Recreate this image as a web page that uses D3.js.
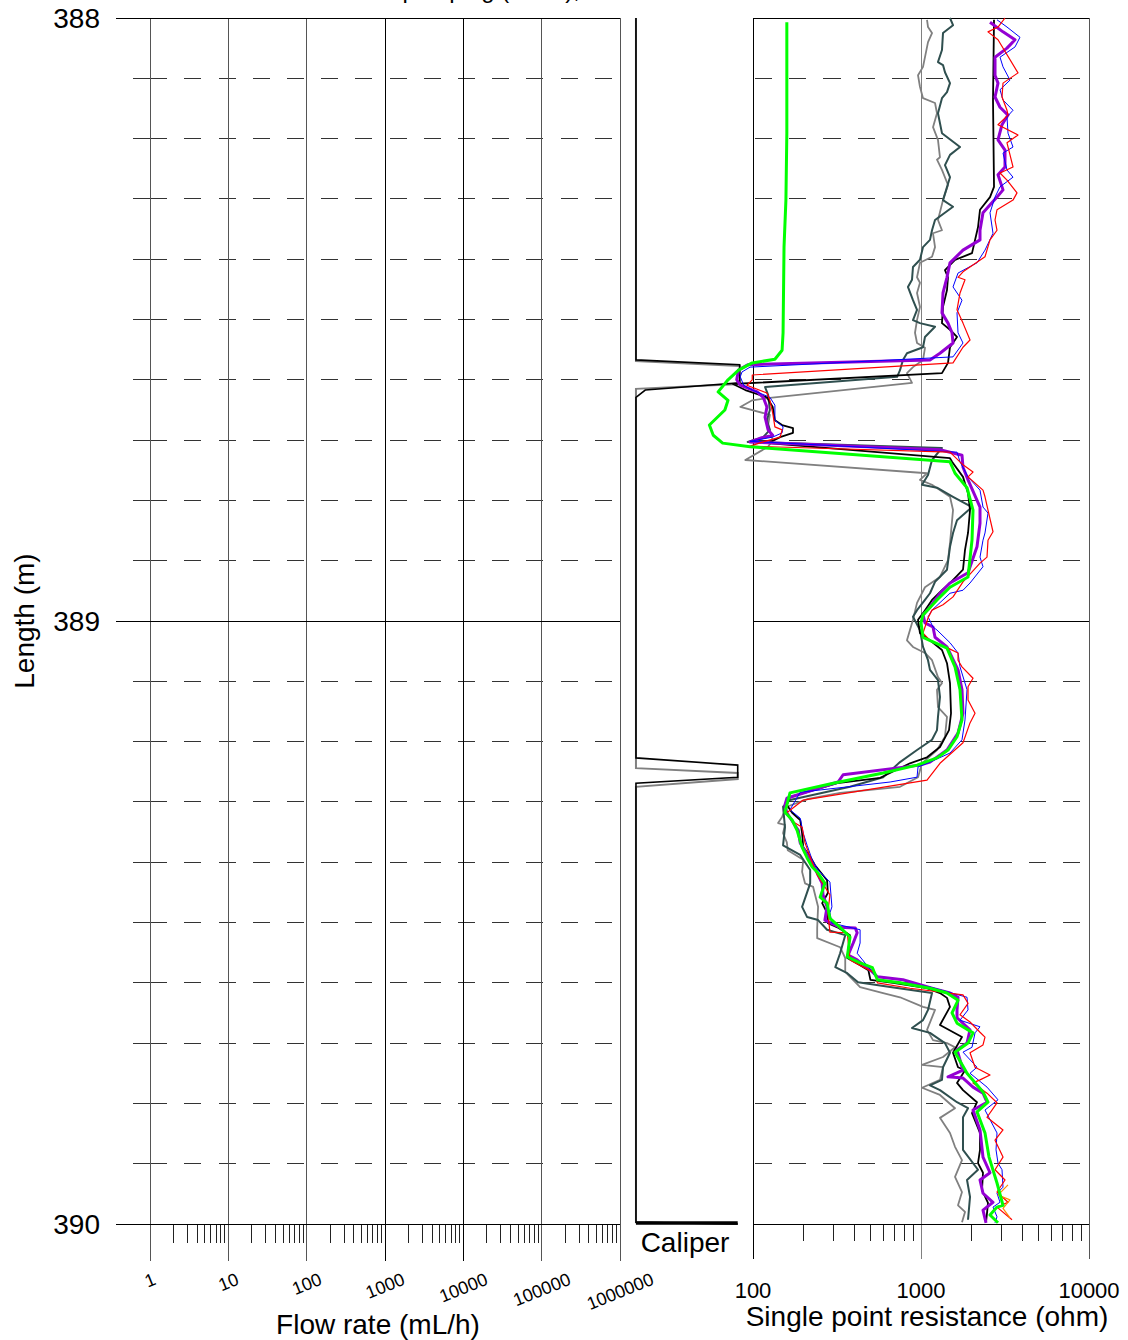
<!DOCTYPE html>
<html>
<head>
<meta charset="utf-8">
<script src="https://cdn.jsdelivr.net/npm/d3@7"></script>
<style>
  html, body { margin: 0; padding: 0; background: #fff; }
  svg { display: block; font-family: "Liberation Sans", Arial, Helvetica, sans-serif; }
</style>
</head>
<body>
<svg id="chart" width="1128" height="1340"></svg>
<script>
// axis ticks
const lengthTicks = [388, 389, 390];
const dashLengths = [388.1, 388.2, 388.3, 388.4, 388.5, 388.6, 388.7, 388.8, 388.9,
                     389.1, 389.2, 389.3, 389.4, 389.5, 389.6, 389.7, 389.8, 389.9];
const flowTicks = [1, 10, 100, 1000, 10000, 100000, 1000000];
const flowTickLabels = ["1", "10", "100", "1000", "10000", "100000", "1000000"];
const sprTicks = [100, 1000, 10000];
const sprTickLabels = ["100", "1000", "10000"];

// caliper (mm) against length (m)
const caliperBlack = [[388.000,76.4],[388.567,76.4],[388.575,92.0],[388.605,92.0],[388.617,77.8],[388.629,76.4],
  [389.227,76.4],[389.239,91.7],[389.259,91.7],[389.269,76.4],[389.997,76.4],[390.000,91.7]];
const caliperGray = [[388.000,76.4],[388.569,76.4],[388.577,92.0],[388.607,92.0],[388.615,76.4],
  [389.244,76.4],[389.252,91.7],[389.262,91.7],[389.275,76.4],[389.997,76.4],[390.000,91.7]];

// single point resistance (ohm) against length (m)
const sprGray = [[388.003,1086],[388.015,1101],[388.025,1163],[388.040,1101],[388.081,1028],[388.095,960],[388.114,986],
  [388.133,1028],[388.141,1212],[388.158,1245],[388.181,1179],[388.202,1262],[388.231,1297],[388.235,1245],[388.252,1333],
  [388.277,1448],[388.302,1352],[388.335,1262],[388.352,1333],[388.357,1179],[388.380,1212],[388.396,1163],[388.406,986],
  [388.430,947],[388.439,986],[388.456,947],[388.479,986],[388.501,947],[388.522,921],[388.539,947],[388.547,1056],
  [388.567,1028],[388.579,896],[388.589,825],[388.605,884],[388.630,126],[388.634,99],[388.645,84],[388.658,126],
  [388.675,123],[388.700,131],[388.711,123],[388.733,90],[388.755,1086],[388.766,986],[388.774,1163],[388.794,1488],
  [388.816,1551],[388.871,1488],[388.899,1448],[388.927,1297],[388.944,1056],[388.970,947],[388.998,896],[389.032,825],
  [389.043,896],[389.053,1056],[389.065,1163],[389.093,1262],[389.103,1333],[389.114,1245],[389.143,1262],[389.159,1428],
  [389.192,1389],[389.214,1245],[389.236,1014],[389.259,960],[389.275,750],[389.285,330],[389.295,213],[389.308,159],
  [389.325,149],[389.335,141],[389.338,155],[389.352,151],[389.367,159],[389.380,161],[389.396,199],[389.416,196],
  [389.435,204],[389.441,228],[389.474,244],[389.509,241],[389.526,241],[389.541,330],[389.559,354],[389.582,354],
  [389.607,434],[389.617,595],[389.624,750],[389.640,1028],[389.645,1212],[389.678,1086],[389.695,1179],[389.700,1428],
  [389.707,1594],[389.723,1352],[389.736,1014],[389.740,1352],[389.761,1297],[389.774,1014],[389.786,1297],[389.808,1594],
  [389.824,1297],[389.849,1488],[389.872,1594],[389.894,1754],[389.922,1594],[389.947,1754],[389.969,1661],[389.980,1828],
  [389.997,1754]];

const sprSlate = [[388.000,1488],[388.012,1551],[388.025,1352],[388.053,1333],[388.073,1262],[388.078,1352],[388.090,1389],
  [388.108,1488],[388.123,1428],[388.133,1333],[388.158,1262],[388.191,1333],[388.214,1707],[388.227,1488],[388.244,1389],
  [388.264,1488],[388.302,1352],[388.313,1551],[388.335,1212],[388.352,1163],[388.368,1131],[388.380,1028],[388.401,986],
  [388.413,896],[388.434,884],[388.446,836],[388.468,896],[388.484,947],[388.501,896],[388.506,986],[388.512,1212],
  [388.529,1056],[388.546,1028],[388.556,825],[388.567,781],[388.584,750],[388.595,721],[388.612,118],[388.625,123],
  [388.650,126],[388.667,121],[388.683,126],[388.695,115],[388.703,93],[388.713,1333],[388.733,1163],[388.758,1101],
  [388.774,1014],[388.779,1245],[388.794,1551],[388.811,2012],[388.833,1638],[388.854,1551],[388.877,1488],[388.915,1428],
  [388.935,1212],[388.954,1131],[388.965,1056],[388.982,947],[388.993,896],[389.015,986],[389.043,1028],[389.065,1101],
  [389.081,1131],[389.098,1262],[389.126,1297],[389.159,1262],[389.181,1245],[389.197,1163],[389.214,947],[389.234,750],
  [389.259,595],[389.275,378],[389.297,166],[389.308,151],[389.342,155],[389.372,151],[389.388,191],[389.400,204],
  [389.413,219],[389.435,219],[389.474,196],[389.491,210],[389.496,244],[389.512,276],[389.521,354],[389.551,330],
  [389.574,309],[389.584,364],[389.599,422],[389.607,655],[389.617,1163],[389.645,1101],[389.662,1028],[389.675,884],
  [389.683,1131],[389.700,1389],[389.716,1488],[389.740,1352],[389.761,1333],[389.770,1131],[389.778,1297],[389.798,1638],
  [389.808,1905],[389.823,1778],[389.877,1778],[389.910,2184],[389.927,1879],[389.955,1958],[389.993,1905]];

const sprBlack = [[388.003,2720],[388.136,2683],[388.280,2720],[388.297,2575],[388.318,2245],[388.347,2184],[388.390,2012],
  [388.401,1594],[388.418,1389],[388.430,1448],[388.451,1428],[388.479,1352],[388.506,1333],[388.517,1488],[388.529,1638],
  [388.546,1488],[388.572,1448],[388.589,1333],[388.607,76],[388.617,90],[388.629,121],[388.645,131],[388.667,135],
  [388.675,149],[388.680,173],[388.688,173],[388.695,145],[388.705,123],[388.730,1488],[388.736,1530],[388.761,1778],
  [388.788,1905],[388.816,1958],[388.854,1905],[388.882,1828],[388.915,1778],[388.937,1488],[388.949,1333],[388.965,1163],
  [388.987,1028],[388.998,960],[389.020,986],[389.032,1131],[389.048,1333],[389.070,1428],[389.103,1488],[389.153,1509],
  [389.181,1468],[389.209,1297],[389.226,1086],[389.236,860],[389.260,572],[389.269,318],[389.292,166],[389.305,159],
  [389.318,171],[389.330,191],[389.352,196],[389.375,199],[389.391,219],[389.405,234],[389.430,276],[389.451,279],
  [389.468,258],[389.484,276],[389.501,279],[389.508,318],[389.521,378],[389.559,364],[389.571,434],[389.579,486],
  [389.595,500],[389.600,682],[389.609,1086],[389.617,1297],[389.625,1428],[389.640,1488],[389.670,1297],[389.690,1754],
  [389.716,1551],[389.740,1661],[389.745,1828],[389.766,1638],[389.778,1778],[389.798,2154],[389.816,2012],[389.849,2245],
  [389.877,2245],[389.899,2184],[389.915,2339],[389.944,2307],[389.965,2505],[389.982,2471],[389.997,2438]];

const sprPurple = [[388.007,2575],[388.023,3077],[388.036,3627],[388.050,3250],[388.065,2758],[388.095,2758],[388.108,2873],
  [388.131,2758],[388.148,2953],[388.161,3295],[388.177,3035],[388.202,2873],[388.219,3162],[388.247,3162],[388.260,2873],
  [388.285,3077],[388.297,2834],[388.323,2339],[388.352,2245],[388.368,2245],[388.385,1778],[388.406,1488],[388.430,1428],
  [388.456,1352],[388.489,1333],[388.506,1448],[388.522,1530],[388.539,1551],[388.556,1297],[388.567,1131],[388.575,93],
  [388.584,82],[388.600,80],[388.609,84],[388.620,106],[388.629,115],[388.645,121],[388.662,118],[388.683,123],
  [388.692,131],[388.697,110],[388.703,96],[388.716,1297],[388.725,1754],[388.745,1778],[388.766,1905],[388.811,2245],
  [388.838,2245],[388.877,2154],[388.920,1905],[388.937,1488],[388.954,1297],[388.977,1131],[388.990,1028],[389.003,1056],
  [389.010,1179],[389.027,1212],[389.043,1428],[389.081,1661],[389.114,1754],[389.153,1778],[389.186,1661],[389.214,1428],
  [389.234,1131],[389.239,986],[389.255,344],[389.267,321],[389.294,159],[389.305,155],[389.318,159],[389.347,186],
  [389.368,191],[389.396,219],[389.418,241],[389.435,258],[389.454,261],[389.474,276],[389.496,268],[389.508,330],
  [389.509,406],[389.517,417],[389.534,395],[389.554,368],[389.562,417],[389.579,500],[389.590,550],[389.595,781],
  [389.609,1163],[389.617,1488],[389.624,1661],[389.645,1638],[389.658,1638],[389.678,1958],[389.700,1879],[389.711,1638],
  [389.745,1778],[389.756,1448],[389.758,1778],[389.773,2040],[389.783,2339],[389.798,2471],[389.811,2040],[389.844,2245],
  [389.889,2339],[389.915,2575],[389.927,2245],[389.949,2339],[389.964,2683],[389.977,2339],[389.998,2438]];

const sprBlue = [[388.003,2834],[388.015,3250],[388.032,3884],[388.048,3627],[388.065,2953],[388.081,3077],[388.103,3387],
  [388.119,2953],[388.136,3077],[388.153,3529],[388.164,3250],[388.191,3295],[388.214,3529],[388.224,3077],[388.252,3250],
  [388.264,3529],[388.280,2953],[388.297,2758],[388.323,2575],[388.357,2683],[388.385,2404],[388.406,2154],[388.423,1661],
  [388.446,1551],[388.468,1754],[388.489,1638],[388.522,1661],[388.539,1778],[388.562,1551],[388.579,96],[388.587,86],
  [388.595,84],[388.609,88],[388.617,99],[388.629,126],[388.642,135],[388.667,135],[388.678,151],[388.688,149],
  [388.695,131],[388.702,96],[388.720,1638],[388.736,1707],[388.761,1905],[388.783,2245],[388.811,2339],[388.821,2505],
  [388.854,2404],[388.866,2339],[388.894,2245],[388.910,2339],[388.937,1958],[388.949,1778],[388.954,1488],[388.982,1163],
  [388.993,1101],[389.010,1179],[389.015,1245],[389.036,1488],[389.053,1661],[389.076,1707],[389.114,1879],[389.164,1828],
  [389.197,1754],[389.219,1488],[389.234,1131],[389.242,960],[389.259,947],[389.267,655],[389.284,191],[389.313,166],
  [389.327,191],[389.352,199],[389.372,210],[389.396,225],[389.413,244],[389.433,287],[389.474,295],[389.484,287],
  [389.501,295],[389.512,434],[389.534,434],[389.551,417],[389.574,486],[389.584,520],[389.595,550],[389.599,750],
  [389.607,1131],[389.624,1879],[389.645,1905],[389.662,1707],[389.673,2245],[389.683,2097],[389.707,2012],[389.715,1778],
  [389.740,2154],[389.750,1958],[389.773,2471],[389.794,2873],[389.811,2404],[389.849,2834],[389.877,2796],[389.899,2873],
  [389.910,3035],[389.939,3077],[389.949,2834],[389.964,2953],[389.972,2683],[389.988,2834],[389.998,2758]];

const sprRed = [[388.000,3162],[388.015,2873],[388.023,2505],[388.036,2873],[388.091,3779],[388.108,3077],[388.131,3035],
  [388.153,3250],[388.161,3295],[388.177,2873],[388.194,3779],[388.207,3250],[388.247,3529],[388.257,2953],[388.269,3250],
  [388.290,3728],[388.302,3529],[388.318,2834],[388.335,2758],[388.352,2834],[388.368,2575],[388.396,2404],[388.421,1778],
  [388.430,1661],[388.434,1828],[388.456,1707],[388.484,1638],[388.506,1778],[388.534,1958],[388.546,1778],[388.572,1551],
  [388.592,99],[388.600,99],[388.609,92],[388.622,121],[388.634,126],[388.655,131],[388.678,135],[388.683,149],
  [388.695,145],[388.703,115],[388.710,96],[388.720,1488],[388.741,1778],[388.753,2040],[388.761,1905],[388.783,2339],
  [388.794,2404],[388.816,2505],[388.852,2683],[388.866,2505],[388.894,2471],[388.904,2245],[388.935,1778],[388.960,1551],
  [388.973,1352],[388.982,1163],[388.995,1101],[389.020,1028],[389.032,1131],[389.045,1448],[389.053,1661],[389.065,1661],
  [389.076,1754],[389.095,2040],[389.109,1905],[389.131,1905],[389.153,2097],[389.169,1958],[389.202,1778],[389.236,1297],
  [389.264,1086],[389.297,199],[389.318,159],[389.333,173],[389.342,196],[389.368,204],[389.400,225],[389.421,241],
  [389.454,287],[389.484,279],[389.516,287],[389.517,364],[389.562,378],[389.574,454],[389.584,535],[389.600,550],
  [389.609,860],[389.620,1778],[389.634,1905],[389.653,1707],[389.665,1958],[389.682,2245],[389.690,2404],[389.703,2339],
  [389.716,1958],[389.740,2097],[389.753,2575],[389.761,2245],[389.766,2040],[389.783,2471],[389.799,2834],[389.823,2471],
  [389.844,3077],[389.861,2758],[389.889,3077],[389.910,2758],[389.927,3162],[389.947,2834],[389.964,3295],[389.972,2834],
  [389.993,3481]];

const sprOrange = [[389.935,3295],[389.952,2873],[389.960,3387],[389.974,3077],[389.990,3387]];

const sprGreen = [[388.007,159],[388.191,159],[388.302,157],[388.380,153],[388.522,151],[388.551,149],[388.566,135],
  [388.572,99],[388.584,82],[388.600,71],[388.620,62],[388.634,71],[388.650,68],[388.675,55],[388.692,58],[388.705,66],
  [388.711,96],[388.736,1488],[388.755,1594],[388.779,1879],[388.816,2040],[388.866,2012],[388.927,1905],[388.944,1488],
  [388.965,1245],[388.990,1028],[389.003,1000],[389.027,1028],[389.045,1428],[389.076,1594],[389.114,1707],[389.164,1754],
  [389.192,1638],[389.214,1448],[389.227,1245],[389.239,947],[389.252,595],[389.269,300],[389.285,166],[389.317,155],
  [389.330,171],[389.347,183],[389.375,196],[389.393,210],[389.408,225],[389.416,241],[389.435,268],[389.458,251],
  [389.468,276],[389.493,287],[389.508,330],[389.524,378],[389.557,364],[389.567,434],[389.575,514],[389.595,550],
  [389.600,750],[389.609,1131],[389.617,1428],[389.629,1661],[389.650,1530],[389.667,1638],[389.683,2040],[389.700,1905],
  [389.715,1594],[389.750,1879],[389.781,2339],[389.798,2505],[389.814,2154],[389.849,2404],[389.889,2540],[389.932,2834],
  [389.969,3077],[389.972,2834],[389.985,2575],[389.998,2873]];

const sprSeries = [
  {data: sprGray,   color: "#808080", width: 1.8},
  {data: sprSlate,  color: "#2f4f4f", width: 2},
  {data: sprBlack,  color: "#000000", width: 1.8},
  {data: sprPurple, color: "#9400d3", width: 3},
  {data: sprBlue,   color: "#0000ff", width: 1},
  {data: sprRed,    color: "#ff0000", width: 1.2},
  {data: sprOrange, color: "#ff8c00", width: 1.2},
  {data: sprGreen,  color: "#00ff00", width: 3}
];

const svg = d3.select("#chart");

// scales
const y = d3.scaleLinear().domain([388, 390]).range([18, 1224]);
const xFlow = d3.scaleLog().domain([1, 1e6]).range([150, 620]);
const xCal = d3.scaleLinear().domain([74, 94]).range([620, 753]);
const xSpr = d3.scaleLog().domain([100, 10000]).range([753, 1089]);

const flowLeft = 116, flowRight = xFlow(1e6);
const axisY = y(390);

// title (mostly above the page edge)
svg.append("text")
  .attr("x", 580).attr("y", -2)
  .attr("text-anchor", "end")
  .attr("font-size", 24)
  .text("Before pumping (black),");

const grid = svg.append("g").attr("shape-rendering", "crispEdges");

// dashed 0.1 m lines, first dash doubled in the flow panel
function dashPattern(first, len) {
  const parts = [first];
  let used = first;
  while (used < len) { parts.push(17.1); used += 17.1; }
  if (parts.length % 2 === 1) parts.push(17.1);
  return parts.join(",");
}
grid.selectAll("line.dflow").data(dashLengths).join("line")
  .attr("x1", 133).attr("x2", 613)
  .attr("y1", d => y(d)).attr("y2", d => y(d))
  .attr("stroke", "#333").attr("stroke-width", 1)
  .attr("stroke-dasharray", dashPattern(34.2, 480));
grid.selectAll("line.dspr").data(dashLengths).join("line")
  .attr("x1", 755).attr("x2", xSpr(10000))
  .attr("y1", d => y(d)).attr("y2", d => y(d))
  .attr("stroke", "#333").attr("stroke-width", 1)
  .attr("stroke-dasharray", "17.1,17.1");

// flow rate panel
grid.selectAll("line.fgrid").data(flowTicks).join("line")
  .attr("x1", d => xFlow(d)).attr("x2", d => xFlow(d))
  .attr("y1", y(388)).attr("y2", axisY + 37)
  .attr("stroke", (d, i) => (i === 3 || i === 4) ? "#000" : "#555").attr("stroke-width", 1);
const flowMinor = xFlow.ticks().filter(t => !flowTicks.includes(t));
grid.selectAll("line.fminor").data(flowMinor).join("line")
  .attr("x1", d => xFlow(d)).attr("x2", d => xFlow(d))
  .attr("y1", axisY).attr("y2", axisY + 19)
  .attr("stroke", "#222").attr("stroke-width", 1);
grid.selectAll("line.fh").data(lengthTicks).join("line")
  .attr("x1", flowLeft).attr("x2", flowRight)
  .attr("y1", d => y(d)).attr("y2", d => y(d))
  .attr("stroke", "#000").attr("stroke-width", 1);

// resistance panel
grid.selectAll("line.sgrid").data(sprTicks).join("line")
  .attr("x1", d => xSpr(d)).attr("x2", d => xSpr(d))
  .attr("y1", y(388)).attr("y2", axisY + 35)
  .attr("stroke", (d, i) => i === 0 ? "#000" : (i === 1 ? "#808080" : "#555")).attr("stroke-width", 1);
const sprMinor = xSpr.ticks().filter(t => !sprTicks.includes(t));
grid.selectAll("line.sminor").data(sprMinor).join("line")
  .attr("x1", d => xSpr(d)).attr("x2", d => xSpr(d))
  .attr("y1", axisY).attr("y2", axisY + 17)
  .attr("stroke", "#222").attr("stroke-width", 1);
grid.selectAll("line.sh").data(lengthTicks).join("line")
  .attr("x1", xSpr(100)).attr("x2", xSpr(10000))
  .attr("y1", d => y(d)).attr("y2", d => y(d))
  .attr("stroke", "#000").attr("stroke-width", 1);

// caliper
const calLine = d3.line().x(d => xCal(d[1])).y(d => y(d[0]));
svg.append("path").datum(caliperGray)
  .attr("d", calLine).attr("fill", "none")
  .attr("stroke", "#808080").attr("stroke-width", 2);
svg.append("path").datum(caliperBlack)
  .attr("d", calLine).attr("fill", "none")
  .attr("stroke", "#000").attr("stroke-width", 1.6);
svg.append("line")
  .attr("x1", xCal(76.4)).attr("x2", xCal(91.7))
  .attr("y1", axisY - 1).attr("y2", axisY - 1)
  .attr("stroke", "#000").attr("stroke-width", 3.5);

// resistance curves
const sprLine = d3.line().x(d => xSpr(d[1])).y(d => y(d[0]));
svg.append("g").selectAll("path").data(sprSeries).join("path")
  .attr("d", d => sprLine(d.data))
  .attr("fill", "none")
  .attr("stroke", d => d.color)
  .attr("stroke-width", d => d.width)
  .attr("stroke-linejoin", "round");

// length labels
svg.selectAll("text.ylab").data(lengthTicks).join("text")
  .attr("x", 100).attr("y", d => y(d) + 10)
  .attr("text-anchor", "end").attr("font-size", 28)
  .text(d => d);
svg.append("text")
  .attr("transform", `translate(34,${y(389)}) rotate(-90)`)
  .attr("text-anchor", "middle").attr("font-size", 28)
  .text("Length (m)");

// flow tick labels, rotated
const ang = 22 * Math.PI / 180;
svg.selectAll("text.flab").data(flowTicks).join("text")
  .attr("font-size", 18)
  .attr("text-anchor", "middle")
  .attr("dy", "0.36em")
  .text((d, i) => flowTickLabels[i])
  .each(function(d) {
    const w = this.getComputedTextLength();
    const h = 13;
    const cy = axisY + 48 + (w * Math.sin(ang) + h * Math.cos(ang)) / 2;
    d3.select(this).attr("transform", `translate(${xFlow(d)},${cy}) rotate(-22)`);
  });
svg.append("text")
  .attr("x", 378).attr("y", 1334)
  .attr("text-anchor", "middle").attr("font-size", 28)
  .text("Flow rate (mL/h)");

// caliper label
svg.append("text")
  .attr("x", 685).attr("y", 1252)
  .attr("text-anchor", "middle").attr("font-size", 28)
  .text("Caliper");

// resistance tick labels
svg.selectAll("text.slab").data(sprTicks).join("text")
  .attr("x", d => xSpr(d)).attr("y", 1298)
  .attr("text-anchor", "middle").attr("font-size", 22)
  .text((d, i) => sprTickLabels[i]);
svg.append("text")
  .attr("x", 927).attr("y", 1326)
  .attr("text-anchor", "middle").attr("font-size", 28)
  .text("Single point resistance (ohm)");
</script>
</body>
</html>
